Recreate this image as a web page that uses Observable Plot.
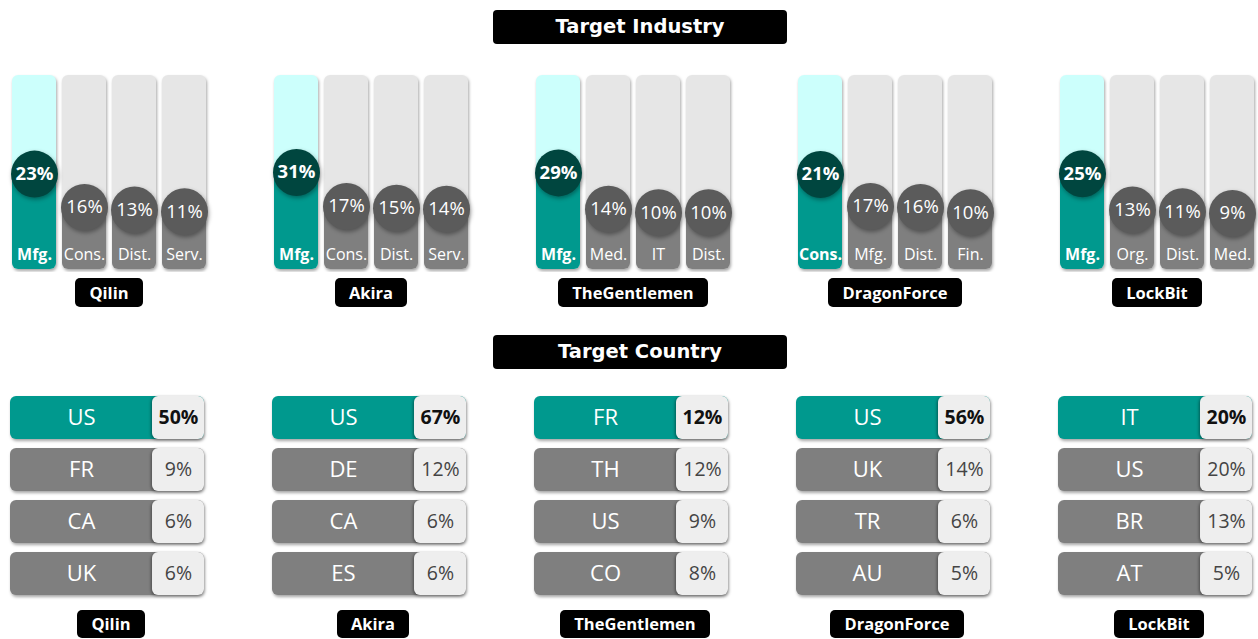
<!DOCTYPE html>
<html>
<head>
<meta charset="utf-8">
<script src="https://cdn.jsdelivr.net/npm/d3@7"></script>
<script src="https://cdn.jsdelivr.net/npm/@observablehq/plot@0.6"></script>
<style>
  body { margin: 0; background: #fff; width: 1258px; font-family: "Open Sans", sans-serif; }
  .title {
    margin-left: 493px; width: 294px; height: 34px; background: #000; color: #fff;
    border-radius: 4px; font-family: "DejaVu Sans", sans-serif; font-weight: bold;
    font-size: 19.5px; line-height: 34px; text-align: center;
  }
  .labels { display: flex; }
  .labels .cell { text-align: center; }
  .labels .tag {
    display: inline-block; background: #000; color: #fff; border-radius: 5px;
    font-family: "Open Sans", sans-serif; font-weight: bold; font-size: 16.5px;
    padding: 0 14px;
  }
  #chart-ind svg, #chart-cty svg { display: block; }
</style>
</head>
<body>
<div class="title" style="margin-top:10px">Target Industry</div>
<div id="chart-ind" style="margin-top:16px"></div>
<div class="labels" id="labels-ind" style="margin-top:6px"></div>
<div class="title" style="margin-top:28px">Target Country</div>
<div id="chart-cty" style="margin-top:11px"></div>
<div class="labels" id="labels-cty" style="margin-top:10px"></div>
<script>
// ---- data ----
const groups = ["Qilin", "Akira", "TheGentlemen", "DragonForce", "LockBit"];

const industryLabels = [
  ["Mfg.", "Cons.", "Dist.", "Serv."],
  ["Mfg.", "Cons.", "Dist.", "Serv."],
  ["Mfg.", "Med.", "IT", "Dist."],
  ["Cons.", "Mfg.", "Dist.", "Fin."],
  ["Mfg.", "Org.", "Dist.", "Med."]
];
const industryValues = [
  [23, 16, 13, 11],
  [31, 17, 15, 14],
  [29, 14, 10, 10],
  [21, 17, 16, 10],
  [25, 13, 11, 9]
];

const countryLabels = [
  ["US", "FR", "CA", "UK"],
  ["US", "DE", "CA", "ES"],
  ["FR", "TH", "US", "CO"],
  ["US", "UK", "TR", "AU"],
  ["IT", "US", "BR", "AT"]
];
const countryValues = [
  [50, 9, 6, 6],
  [67, 12, 6, 6],
  [12, 12, 9, 8],
  [56, 14, 6, 5],
  [20, 20, 13, 5]
];

// ---- styling ----
const TEAL = "#00998e", TEAL_LIGHT = "#ccfffc", TEAL_DARK = "#00463f";
const GRAY = "#7f7f7f", GRAY_LIGHT = "#e6e6e6", GRAY_DARK = "#5b5b5b";
const BOX = "#eeeeee";
const SHADOW = "drop-shadow(1px 2px 1.5px rgba(0,0,0,0.35))";

const ranks = [0, 1, 2, 3];
const ind = groups.flatMap((g, gi) => ranks.map(r => ({
  group: g, rank: r, label: industryLabels[gi][r], value: industryValues[gi][r], top: r === 0
})));
const cty = groups.flatMap((g, gi) => ranks.map(r => ({
  group: g, rank: r, label: countryLabels[gi][r], value: countryValues[gi][r], top: r === 0
})));
const indTop = ind.filter(d => d.top), indRest = ind.filter(d => !d.top);
const ctyTop = cty.filter(d => d.top), ctyRest = cty.filter(d => !d.top);

const yMax = 40; // full height of an industry column, in percent units

// ---- industry chart ----
const indChart = Plot.plot({
  width: 1258, height: 212,
  marginTop: 15, marginBottom: 3, marginLeft: 11, marginRight: 3,
  style: { fontFamily: "Open Sans, sans-serif" },
  fx: { domain: groups, paddingInner: 0.252, paddingOuter: 0, axis: null },
  x: { type: "band", domain: ranks, paddingInner: 0.13, paddingOuter: 0, axis: null },
  // piecewise scale: leading share is lifted above the rest, as in the original design
  y: { type: "linear", domain: [0, 9, 17, 21, 31, yMax], range: [209, 153, 146, 114, 112, 15], axis: null },
  color: { type: "identity" },
  marks: [
    Plot.barY(ind, { fx: "group", x: "rank", y1: 0, y2: yMax,
      fill: d => d.top ? TEAL_LIGHT : GRAY_LIGHT, rx: 6, imageFilter: SHADOW }),
    Plot.barY(ind, { fx: "group", x: "rank", y1: 0, y2: "value",
      fill: d => d.top ? TEAL : GRAY, rx: 6 }),
    Plot.dot(ind, { fx: "group", x: "rank", y: "value", r: 23.5,
      fill: d => d.top ? TEAL_DARK : GRAY_DARK, imageFilter: "drop-shadow(1px 2px 2px rgba(0,0,0,0.35))" }),
    Plot.text(indTop, { fx: "group", x: "rank", y: "value", text: d => d.value + "%",
      fill: "white", fontSize: 18.5, fontWeight: "bold" }),
    Plot.text(indRest, { fx: "group", x: "rank", y: "value", text: d => d.value + "%",
      fill: "white", fontSize: 18.5 }),
    Plot.text(indTop, { fx: "group", x: "rank", y: 0, dy: -15, text: "label",
      fill: "white", fontSize: 16, fontWeight: "bold" }),
    Plot.text(indRest, { fx: "group", x: "rank", y: 0, dy: -15, text: "label",
      fill: "white", fontSize: 16 })
  ]
});
document.getElementById("chart-ind").append(indChart);

// ---- country chart ----
const boxStart = 0.732; // value box begins at this fraction of the bar
const cChart = Plot.plot({
  width: 1258, height: 220,
  marginTop: 15, marginBottom: 3, marginLeft: 10, marginRight: 6,
  style: { fontFamily: "Open Sans, sans-serif" },
  fx: { domain: groups, paddingInner: 0.26, paddingOuter: 0, axis: null },
  y: { type: "band", domain: ranks, paddingInner: 0.165, paddingOuter: 0, axis: null },
  x: { type: "linear", domain: [0, 1], axis: null },
  color: { type: "identity" },
  marks: [
    Plot.barX(cty, { fx: "group", y: "rank", x1: 0, x2: 1,
      fill: d => d.top ? TEAL : GRAY, rx: 6, imageFilter: SHADOW }),
    Plot.barX(cty, { fx: "group", y: "rank", x1: boxStart, x2: 1,
      fill: BOX, rx: 6, imageFilter: "drop-shadow(-1px 1px 1.5px rgba(0,0,0,0.4))" }),
    Plot.text(cty, { fx: "group", y: "rank", x: boxStart / 2, text: "label",
      fill: "white", fontSize: 22 }),
    Plot.text(ctyTop, { fx: "group", y: "rank", x: (boxStart + 1) / 2, text: d => d.value + "%",
      fill: "#111", fontSize: 19.5, fontWeight: "bold" }),
    Plot.text(ctyRest, { fx: "group", y: "rank", x: (boxStart + 1) / 2, text: d => d.value + "%",
      fill: "#444", fontSize: 19.5 })
  ]
});
document.getElementById("chart-cty").append(cChart);

// ---- panel name tags ----
function tags(id, left, cellW, gap, h) {
  const row = document.getElementById(id);
  row.style.paddingLeft = left + "px";
  row.style.gap = gap + "px";
  groups.forEach(g => {
    const c = document.createElement("div");
    c.className = "cell";
    c.style.width = cellW + "px";
    const t = document.createElement("span");
    t.className = "tag";
    t.style.height = h + "px";
    t.style.lineHeight = h + "px";
    t.textContent = g;
    c.append(t);
    row.append(c);
  });
}
tags("labels-ind", 11, 196, 66, 29);
tags("labels-cty", 14, 194, 68, 28);
</script>
</body>
</html>
